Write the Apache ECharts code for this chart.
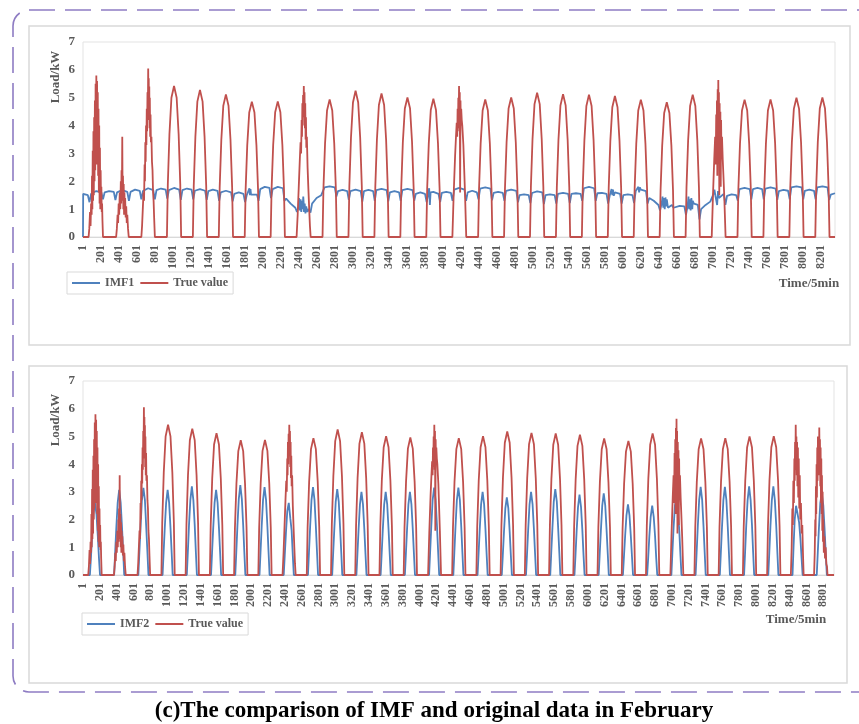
<!DOCTYPE html>
<html>
<head>
<meta charset="utf-8">
<script src="https://cdn.jsdelivr.net/npm/echarts@6/dist/echarts.min.js"></script>
<style>
  html, body { margin: 0; padding: 0; background: #fff; }
  #chart { width: 859px; height: 724px; }
</style>
</head>
<body>
<div id="chart"></div>
<script>
// one point every 5 minutes -> 288 points per day
const DAY = 288;
const TOP_DAYS = 29;
const BOTTOM_DAYS = 31;
const TICK_STEP = 200;

// True value, clear days: load at these offsets inside the day
const trueOffsets = [68, 78, 96, 118, 147, 176, 198, 216, 226];
const trueRows = [
  null, null, null,
  [0, 1.9, 3.7, 5.0, 5.42, 5.0, 3.7, 1.9, 0],
  [0, 1.85, 3.6, 4.86, 5.28, 4.86, 3.6, 1.85, 0],
  [0, 1.8, 3.48, 4.71, 5.12, 4.71, 3.48, 1.8, 0],
  [0, 1.7, 3.3, 4.47, 4.86, 4.47, 3.3, 1.7, 0],
  [0, 1.7, 3.31, 4.48, 4.87, 4.48, 3.31, 1.7, 0],
  null,
  [0, 1.73, 3.36, 4.54, 4.94, 4.54, 3.36, 1.73, 0],
  [0, 1.84, 3.57, 4.83, 5.25, 4.83, 3.57, 1.84, 0],
  [0, 1.8, 3.5, 4.74, 5.15, 4.74, 3.5, 1.8, 0],
  [0, 1.75, 3.41, 4.61, 5.01, 4.61, 3.41, 1.75, 0],
  [0, 1.74, 3.37, 4.56, 4.96, 4.56, 3.37, 1.74, 0],
  null,
  [0, 1.73, 3.36, 4.54, 4.94, 4.54, 3.36, 1.73, 0],
  [0, 1.75, 3.41, 4.61, 5.01, 4.61, 3.41, 1.75, 0],
  [0, 1.81, 3.52, 4.77, 5.18, 4.77, 3.52, 1.81, 0],
  [0, 1.8, 3.49, 4.72, 5.13, 4.72, 3.49, 1.8, 0],
  [0, 1.79, 3.47, 4.7, 5.11, 4.7, 3.47, 1.79, 0],
  [0, 1.77, 3.44, 4.66, 5.06, 4.66, 3.44, 1.77, 0],
  [0, 1.73, 3.35, 4.54, 4.93, 4.54, 3.35, 1.73, 0],
  [0, 1.69, 3.29, 4.45, 4.84, 4.45, 3.29, 1.69, 0],
  [0, 1.79, 3.47, 4.7, 5.11, 4.7, 3.47, 1.79, 0],
  null,
  [0, 1.73, 3.35, 4.54, 4.93, 4.54, 3.35, 1.73, 0],
  [0, 1.73, 3.36, 4.54, 4.94, 4.54, 3.36, 1.73, 0],
  [0, 1.75, 3.4, 4.6, 5.0, 4.6, 3.4, 1.75, 0],
  [0, 1.75, 3.41, 4.61, 5.01, 4.61, 3.41, 1.75, 0],
  null, null
];

// True value, cloudy days: [offset in day, load]
const trueSpiky = {
  0: [[62,0],[70,0.3],[78,0.9],[84,0.4],[90,1.2],[96,0.8],[100,2.2],[104,1.0],[108,3.1],[112,1.3],[116,3.8],[120,1.5],[124,4.3],[128,2.0],[132,4.9],[136,2.4],[140,5.5],[144,3.0],[148,5.8],[152,2.6],[156,5.6],[160,3.4],[164,5.2],[168,2.2],[172,4.6],[176,1.6],[180,4.0],[184,1.2],[188,3.2],[192,1.0],[196,2.4],[200,1.3],[204,1.8],[208,0.9],[212,1.2],[216,0.6],[222,0]],
  1: [[80,0],[88,0.3],[96,0.8],[102,0.5],[108,1.2],[114,0.8],[120,1.6],[126,1.0],[132,2.0],[136,1.2],[140,2.4],[144,1.5],[148,3.6],[152,1.3],[156,2.2],[160,1.0],[164,1.9],[168,0.8],[172,1.6],[176,0.9],[180,1.4],[186,0.7],[192,1.1],[198,0.5],[204,0.8],[212,0.3],[220,0]],
  2: [[72,0],[80,0.4],[88,1.0],[96,1.6],[102,1.3],[108,2.6],[112,2.0],[116,3.4],[120,2.7],[124,4.0],[128,3.3],[132,4.6],[136,3.8],[140,5.2],[144,4.4],[148,6.05],[151,4.6],[154,5.7],[157,4.2],[160,5.4],[163,3.9],[166,5.0],[170,3.6],[174,4.4],[178,3.4],[184,3.6],[190,2.7],[196,2.4],[202,1.6],[208,1.3],[214,0.7],[222,0]],
  8: [[68,0],[80,0.8],[92,1.8],[104,2.8],[112,3.4],[118,3.0],[124,4.2],[128,3.6],[132,4.8],[136,4.0],[140,5.1],[144,4.3],[148,5.42],[152,4.5],[156,5.2],[160,3.9],[164,4.8],[168,3.5],[172,4.3],[176,3.2],[182,3.6],[190,2.5],[198,1.8],[208,1.0],[216,0.4],[224,0]],
  14: [[70,0],[84,1.5],[100,2.9],[110,3.6],[118,4.1],[124,3.6],[128,4.6],[132,3.9],[136,5.0],[140,4.2],[144,5.42],[148,3.8],[152,5.2],[156,1.6],[160,4.9],[164,4.0],[168,4.6],[174,4.2],[180,4.0],[192,3.3],[210,1.6],[224,0]],
  24: [[70,0],[84,1.5],[98,2.8],[108,3.6],[114,2.6],[120,4.4],[124,3.2],[128,4.9],[132,2.2],[136,5.3],[140,3.5],[143,5.64],[146,4.0],[150,5.2],[154,1.5],[158,4.8],[162,2.4],[166,4.5],[170,1.8],[174,4.2],[178,3.0],[184,3.6],[192,2.8],[200,2.2],[210,1.4],[224,0]],
  29: [[62,0],[72,1.0],[80,2.4],[86,1.8],[92,3.4],[98,2.6],[104,4.2],[108,3.4],[112,4.8],[116,3.8],[120,5.42],[124,4.0],[128,5.0],[132,3.6],[136,4.8],[140,3.2],[146,4.6],[150,2.8],[156,4.2],[162,2.4],[168,3.6],[174,2.0],[182,2.6],[190,1.5],[198,1.8],[206,0.8],[214,0]],
  30: [[50,0],[58,0.8],[64,2.0],[68,1.4],[72,3.2],[76,2.2],[80,4.0],[84,2.8],[88,4.6],[92,3.4],[96,5.0],[100,3.8],[104,4.8],[108,3.6],[112,5.32],[116,4.0],[120,4.9],[124,3.2],[128,4.6],[132,2.6],[136,4.2],[140,2.2],[144,3.6],[148,1.6],[152,3.0],[156,1.2],[160,2.0],[166,0.8],[172,1.4],[180,0.6],[188,1.0],[196,0.4],[204,0.3],[210,0]]
};

// IMF1: [midnight, pre-dawn, sunrise dip, morning, noon, afternoon, sunset dip, evening]
const imf1Offsets = [2, 54, 72, 90, 147, 204, 222, 240];
const imf1Rows = [
  [1.55, 1.5, 1.25, 1.55, 1.65, 1.6, 1.35, 1.6],
  [1.65, 1.62, 1.33, 1.6, 1.68, 1.62, 1.3, 1.62],
  [1.7, 1.66, 1.35, 1.65, 1.75, 1.68, 1.35, 1.68],
  [1.74, 1.7, 1.38, 1.68, 1.76, 1.7, 1.33, 1.68],
  [1.74, 1.7, 1.35, 1.66, 1.72, 1.66, 1.33, 1.65],
  [1.7, 1.66, 1.3, 1.6, 1.66, 1.6, 1.28, 1.55],
  [1.6, 1.55, 1.25, 1.5, 1.58, 1.52, 1.3, 1.72],
  [1.8, 1.76, 1.4, 1.72, 1.8, 1.75, 1.3, 1.38],
  [1.2, 1.05, 0.9, 1.1, 1.2, 1.0, 0.88, 1.2],
  [1.4, 1.5, 1.45, 1.78, 1.82, 1.78, 1.45, 1.65],
  [1.69, 1.65, 1.33, 1.65, 1.7, 1.65, 1.27, 1.65],
  [1.69, 1.65, 1.3, 1.68, 1.73, 1.68, 1.28, 1.6],
  [1.65, 1.6, 1.3, 1.68, 1.73, 1.68, 1.3, 1.55],
  [1.6, 1.55, 1.25, 1.55, 1.62, 1.55, 1.25, 1.58],
  [1.62, 1.58, 1.3, 1.7, 1.76, 1.7, 1.3, 1.6],
  [1.66, 1.6, 1.35, 1.74, 1.78, 1.74, 1.32, 1.58],
  [1.62, 1.58, 1.3, 1.66, 1.7, 1.66, 1.25, 1.5],
  [1.53, 1.5, 1.22, 1.58, 1.64, 1.6, 1.18, 1.5],
  [1.53, 1.5, 1.2, 1.55, 1.58, 1.55, 1.22, 1.55],
  [1.57, 1.55, 1.3, 1.75, 1.8, 1.75, 1.3, 1.57],
  [1.58, 1.55, 1.2, 1.5, 1.6, 1.55, 1.2, 1.5],
  [1.53, 1.5, 1.22, 1.65, 1.7, 1.65, 1.2, 1.4],
  [1.3, 1.15, 0.95, 1.2, 1.35, 1.15, 1.05, 1.1],
  [1.12, 1.1, 0.8, 1.1, 1.3, 1.15, 0.63, 1.0],
  [1.15, 1.27, 1.2, 1.55, 1.62, 1.55, 1.15, 1.48],
  [1.53, 1.5, 1.3, 1.72, 1.76, 1.72, 1.35, 1.72],
  [1.76, 1.72, 1.35, 1.74, 1.78, 1.74, 1.33, 1.65],
  [1.69, 1.66, 1.35, 1.78, 1.82, 1.78, 1.35, 1.66],
  [1.7, 1.66, 1.35, 1.78, 1.82, 1.78, 1.33, 1.52]
];
// IMF1 extra points (point index, load): start, noisy stretches, end
const imf1Extra = [
  [0, 0],
  [1848, 1.75], [1854, 1.5], [1860, 1.72], [1866, 1.52],
  [2399, 1.4], [2409, 0.95], [2416, 1.35], [2424, 0.9], [2432, 1.3], [2439, 1.0], [2446, 1.45], [2454, 0.9], [2462, 1.2], [2470, 0.85], [2479, 1.1], [2489, 0.9], [2499, 1.0],
  [3844, 1.75], [3852, 1.15], [3860, 1.6],
  [5870, 1.72], [5878, 1.5], [5886, 1.7], [5894, 1.48],
  [6168, 1.8], [6176, 1.6], [6184, 1.78],
  [6436, 1.45], [6444, 1.05], [6452, 1.4], [6460, 1.0], [6468, 1.42], [6476, 1.1], [6486, 1.38], [6496, 1.05],
  [6724, 1.45], [6732, 1.0], [6740, 1.35], [6748, 0.95], [6756, 1.4], [6766, 1.0], [6784, 1.2],
  [7012, 1.7], [7022, 1.5], [7042, 1.15], [7052, 1.65], [7062, 1.4],
  [8351, 1.57]
];

// IMF2 day bells
const imf2Offsets = [82, 94, 108, 124, 142, 160, 176, 190, 202];
const imf2Rows = [
  [0, 0.6, 1.4, 2.2, 2.6, 2.2, 1.4, 0.6, 0],
  [0, 0.8, 1.7, 2.6, 3.07, 2.6, 1.7, 0.8, 0],
  [0, 0.8, 1.7, 2.7, 3.14, 2.7, 1.7, 0.8, 0],
  [0, 0.8, 1.7, 2.6, 3.07, 2.6, 1.7, 0.8, 0],
  [0, 0.8, 1.8, 2.7, 3.2, 2.7, 1.8, 0.8, 0],
  [0, 0.8, 1.7, 2.6, 3.07, 2.6, 1.7, 0.8, 0],
  [0, 0.8, 1.8, 2.75, 3.24, 2.75, 1.8, 0.8, 0],
  [0, 0.8, 1.75, 2.7, 3.17, 2.7, 1.75, 0.8, 0],
  [0, 0.7, 1.5, 2.3, 2.6, 2.05, 1.6, 0.7, 0],
  [0, 0.8, 1.75, 2.7, 3.17, 2.7, 1.75, 0.8, 0],
  [0, 0.8, 1.7, 2.65, 3.1, 2.65, 1.7, 0.8, 0],
  [0, 0.75, 1.65, 2.55, 3.0, 2.55, 1.65, 0.75, 0],
  [0, 0.75, 1.65, 2.55, 3.0, 2.55, 1.65, 0.75, 0],
  [0, 0.75, 1.65, 2.55, 3.0, 2.55, 1.65, 0.75, 0],
  [0, 0.8, 1.75, 2.7, 3.15, 2.7, 1.75, 0.8, 0],
  [0, 0.8, 1.75, 2.7, 3.15, 2.7, 1.75, 0.8, 0],
  [0, 0.75, 1.65, 2.55, 3.0, 2.55, 1.65, 0.75, 0],
  [0, 0.7, 1.55, 2.4, 2.8, 2.4, 1.55, 0.7, 0],
  [0, 0.75, 1.65, 2.55, 3.0, 2.55, 1.65, 0.75, 0],
  [0, 0.8, 1.7, 2.65, 3.1, 2.65, 1.7, 0.8, 0],
  [0, 0.7, 1.6, 2.45, 2.9, 2.45, 1.6, 0.7, 0],
  [0, 0.75, 1.6, 2.5, 2.95, 2.5, 1.6, 0.75, 0],
  [0, 0.65, 1.4, 2.15, 2.55, 2.15, 1.4, 0.65, 0],
  [0, 0.6, 1.4, 2.1, 2.5, 2.1, 1.4, 0.6, 0],
  [0, 0.8, 1.7, 2.5, 2.8, 2.3, 1.6, 0.7, 0],
  [0, 0.8, 1.75, 2.7, 3.18, 2.7, 1.75, 0.8, 0],
  [0, 0.8, 1.75, 2.7, 3.18, 2.7, 1.75, 0.8, 0],
  [0, 0.8, 1.8, 2.7, 3.2, 2.7, 1.8, 0.8, 0],
  [0, 0.8, 1.8, 2.7, 3.2, 2.7, 1.8, 0.8, 0],
  [0, 1.0, 2.0, 2.5, 2.2, 1.9, 1.3, 0.6, 0],
  [0, 0.8, 1.7, 2.6, 2.95, 2.5, 1.6, 0.7, 0]
];

const FONT = "'Liberation Serif', 'Times New Roman', serif";
const RED = '#c0504d';
const BLUE = '#4f81bd';
const LABEL = '#595959';

function trueSeriesData(days) {
  const pts = [[0, 0]];
  for (let d = 0; d < days; d++) {
    const base = d * DAY;
    if (trueSpiky[d]) {
      trueSpiky[d].forEach(([o, v]) => pts.push([base + o, v]));
    } else {
      trueRows[d].forEach((v, k) => pts.push([base + trueOffsets[k], v]));
    }
  }
  pts.push([days * DAY - 1, 0]);
  return pts;
}

function imf1SeriesData(days) {
  const pts = imf1Extra.slice();
  for (let d = 0; d < days; d++) {
    imf1Rows[d].forEach((v, k) => pts.push([d * DAY + imf1Offsets[k], v]));
  }
  return pts.sort((a, b) => a[0] - b[0]);
}

function imf2SeriesData(days) {
  const pts = [[0, 0]];
  for (let d = 0; d < days; d++) {
    imf2Rows[d].forEach((v, k) => pts.push([d * DAY + imf2Offsets[k], v]));
  }
  pts.push([days * DAY - 1, 0]);
  return pts;
}

function xAxisFor(gridIndex, days) {
  return {
    type: 'value',
    gridIndex: gridIndex,
    min: 0,
    max: days * DAY - 1,
    interval: TICK_STEP,
    axisLine: { lineStyle: { color: '#d9d9d9', width: 1 } },
    axisTick: { show: false },
    splitLine: { show: false },
    axisLabel: {
      rotate: 90,
      margin: 8,
      showMaxLabel: false,
      fontFamily: FONT,
      fontWeight: 'bold',
      fontSize: 12,
      color: LABEL,
      formatter: v => String(v + 1)
    }
  };
}

function yAxisFor(gridIndex) {
  return {
    type: 'value',
    gridIndex: gridIndex,
    min: 0,
    max: 7,
    interval: 1,
    axisLine: { show: false },
    axisTick: { show: false },
    splitLine: { show: false },
    axisLabel: { margin: 8, fontFamily: FONT, fontWeight: 'bold', fontSize: 13, color: LABEL }
  };
}

function lineSeries(name, idx, data, color) {
  return {
    name: name,
    type: 'line',
    xAxisIndex: idx,
    yAxisIndex: idx,
    data: data,
    showSymbol: false,
    symbol: 'none',
    lineStyle: { color: color, width: 1.8 },
    itemStyle: { color: color },
    animation: false
  };
}

function legendFor(names, left, top) {
  return {
    data: names,
    left: left,
    top: top,
    orient: 'horizontal',
    icon: 'rect',
    itemWidth: 28,
    itemHeight: 2,
    itemGap: 6,
    padding: [5, 5],
    borderColor: '#d9d9d9',
    borderWidth: 1,
    textStyle: { fontFamily: FONT, fontWeight: 'bold', fontSize: 12, color: LABEL }
  };
}

function label(text, x, y, opts) {
  return Object.assign({
    type: 'text',
    x: x,
    y: y,
    z: 10,
    style: {
      text: text,
      fontFamily: FONT,
      fontWeight: 'bold',
      fontSize: 13,
      fill: LABEL,
      textAlign: 'center',
      textVerticalAlign: 'middle'
    }
  }, opts || {});
}

const chart = echarts.init(document.getElementById('chart'), null, { renderer: 'canvas' });

chart.setOption({
  animation: false,
  backgroundColor: '#fff',
  grid: [
    { left: 83, top: 42, width: 752, height: 195, show: true, borderColor: '#e3e3e3', borderWidth: 1 },
    { left: 83, top: 381, width: 751, height: 194, show: true, borderColor: '#e3e3e3', borderWidth: 1 }
  ],
  xAxis: [xAxisFor(0, TOP_DAYS), xAxisFor(1, BOTTOM_DAYS)],
  yAxis: [yAxisFor(0), yAxisFor(1)],
  legend: [
    legendFor(['IMF1', 'True value'], 67, 272),
    legendFor(['IMF2', 'True value'], 82, 613)
  ],
  series: [
    lineSeries('IMF1', 0, imf1SeriesData(TOP_DAYS), BLUE),
    lineSeries('True value', 0, trueSeriesData(TOP_DAYS), RED),
    lineSeries('IMF2', 1, imf2SeriesData(BOTTOM_DAYS), BLUE),
    lineSeries('True value', 1, trueSeriesData(BOTTOM_DAYS), RED)
  ],
  graphic: [
    {
      type: 'rect', z: -10,
      shape: { x: 13, y: 10, width: 880, height: 682, r: 16 },
      style: { fill: 'none', stroke: '#8e7cc3', lineWidth: 1.6, lineDash: [26, 10] }
    },
    {
      type: 'rect', z: -9,
      shape: { x: 29, y: 26, width: 821, height: 319 },
      style: { fill: '#fff', stroke: '#d9d9d9', lineWidth: 1.5 }
    },
    {
      type: 'rect', z: -9,
      shape: { x: 29, y: 366, width: 818, height: 317 },
      style: { fill: '#fff', stroke: '#d9d9d9', lineWidth: 1.5 }
    },
    label('Load/kW', 56, 77, { rotation: Math.PI / 2 }),
    label('Load/kW', 56, 420, { rotation: Math.PI / 2 }),
    label('Time/5min', 809, 284),
    label('Time/5min', 796, 620),
    {
      type: 'text', x: 434, y: 711, z: 10,
      style: {
        text: '(c)The comparison of IMF and original data in February',
        fontFamily: FONT, fontWeight: 'bold', fontSize: 23, fill: '#000',
        textAlign: 'center', textVerticalAlign: 'middle'
      }
    }
  ]
});
</script>
</body>
</html>
